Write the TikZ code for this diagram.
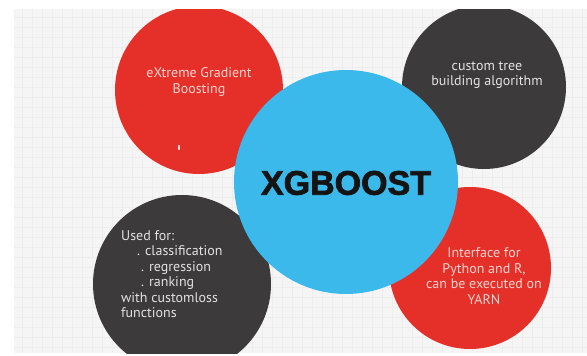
\documentclass[tikz,border=0pt]{standalone}
\usepackage{fontspec}
\setmainfont{PT Sans}
\newfontfamily\titlefont{Liberation Sans}
\definecolor{paper}{HTML}{F5F5F5}
\definecolor{gridink}{HTML}{EDEDED}
\definecolor{xgred}{HTML}{E5302A}
\definecolor{xgdark}{HTML}{3C3A3A}
\definecolor{xgblue}{HTML}{3BB9EA}
\definecolor{redtext}{HTML}{F8D3CE}
\definecolor{darktext}{HTML}{E2E2E2}
\definecolor{titleink}{HTML}{141414}
% fill and stroke the glyphs for a heavier weight
\newcommand\heavytext[1]{\special{pdf:code 2 Tr 0.7 w}#1\special{pdf:code 0 Tr}}
\tikzset{
  bubble/.style={circle, inner sep=0pt, draw=none},
  gridline/.style={draw=gridink, line width=0.4pt},
  caption/.style={inner sep=0pt, align=center, font=\fontsize{14}{15.5}\selectfont},
}
\begin{document}
\begin{tikzpicture}[x=1pt,y=-1pt]
\useasboundingbox (0,0) rectangle (587,356);
% page and faint grid paper
\fill[white] (0,0) rectangle (587,356);
\fill[paper] (14,9) rectangle (587,353);
\foreach \gx in {22,32,...,582} \draw[gridline] (\gx,9) -- (\gx,353);
\foreach \gy in {17,27,...,347} \draw[gridline] (14,\gy) -- (587,\gy);

\begin{scope}
\clip (14,9) rectangle (587,353);
% outer bubbles
\node[bubble, fill=xgred,  minimum size=168pt] (boost)  at (199,90)  {};
\node[bubble, fill=xgdark, minimum size=164pt] (tree)   at (484,87)  {};
\node[bubble, fill=xgdark, minimum size=178pt] (usage)  at (182,284) {};
\node[bubble, fill=xgred,  minimum size=162pt] (iface)  at (470,268) {};
% central bubble on top
\node[bubble, fill=xgblue, minimum size=224pt] (core)   at (346,182) {};
\end{scope}

% central title
\node[inner sep=0pt, text=titleink,
      font=\titlefont\bfseries\fontsize{34}{34}\selectfont] (title) at (346,183)
  {\heavytext{XGBOOST}};

% bubble captions
\node[caption, text=redtext] (boosttext) at (199,82) {eXtreme Gradient\\Boosting};
\fill[redtext] (177.5,145) rectangle (179.5,150);
\node[caption, text=darktext] (treetext) at (487,75) {custom tree\\building algorithm};
\node[caption, text=darktext, align=left, anchor=north west] (usagetext) at (121,230)
  {Used for:\\
   \hspace*{16pt}. classification\\
   \hspace*{20pt}. regression\\
   \hspace*{20pt}. ranking\\
   with customloss\\
   functions};
\node[caption, text=redtext] (ifacetext) at (484,276)
  {Interface for\\Python and R,\\can be executed on\\YARN};
\end{tikzpicture}
\end{document}
